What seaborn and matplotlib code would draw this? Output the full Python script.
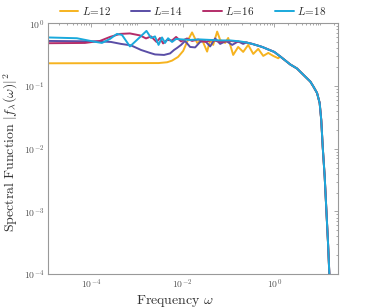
import numpy as np
import pandas as pd
import seaborn as sns
import matplotlib
matplotlib.use("Agg")
import matplotlib.pyplot as plt
from matplotlib.ticker import LogLocator, FuncFormatter, NullFormatter

# values
# low frequency part, different for every system size L
w_L12 = [1.15e-5, 3.0e-3, 4.6e-3, 5.89e-3, 7.97e-3, 1.03e-2, 1.25e-2, 1.61e-2, 2.08e-2,
         2.67e-2, 3.43e-2, 3.99e-2, 4.65e-2, 5.68e-2, 6.60e-2, 8.49e-2, 9.88e-2, 0.127,
         0.163, 0.210, 0.270, 0.348, 0.447, 0.575, 0.740, 0.951, 1.22]
f_L12 = [0.231, 0.233, 0.240, 0.255, 0.292, 0.364, 0.506, 0.718, 0.488,
         0.545, 0.355, 0.545, 0.454, 0.740, 0.545, 0.488, 0.586, 0.314,
         0.421, 0.351, 0.454, 0.326, 0.392, 0.303, 0.338, 0.303, 0.278]

w_L14 = [1.15e-5, 1.57e-4, 2.74e-4, 4.53e-4, 7.5e-4, 1.24e-3, 1.95e-3, 2.50e-3, 3.94e-3,
         5.33e-3, 6.52e-3, 7.58e-3, 9.27e-3, 1.13e-2, 1.46e-2, 1.88e-2, 2.41e-2, 3.10e-2,
         3.99e-2, 5.13e-2, 6.60e-2, 8.93e-2, 0.121, 0.163, 0.210]
f_L14 = [0.525, 0.516, 0.506, 0.471, 0.446, 0.377, 0.338, 0.320, 0.314,
         0.332, 0.377, 0.406, 0.454, 0.525, 0.421, 0.414, 0.506, 0.525,
         0.429, 0.576, 0.471, 0.525, 0.454, 0.516, 0.471]

w_L16 = [1.15e-5, 7.4e-5, 1.57e-4, 2.60e-4, 4.30e-4, 7.1e-4, 1.18e-3, 1.59e-3, 2.05e-3,
         2.70e-3, 3.22e-3, 3.75e-3, 4.58e-3, 5.89e-3, 7.21e-3, 9.27e-3, 1.25e-2, 1.61e-2,
         2.18e-2, 3.10e-2, 4.41e-2, 6.60e-2, 0.109, 0.181]
f_L16 = [0.483, 0.488, 0.525, 0.608, 0.680, 0.692, 0.643, 0.576, 0.620,
         0.506, 0.586, 0.479, 0.545, 0.535, 0.608, 0.516, 0.576, 0.525,
         0.555, 0.506, 0.545, 0.506, 0.525, 0.506]

w_L18 = [1.15e-5, 4.94e-5, 1.16e-4, 1.74e-4, 2.60e-4, 3.70e-4, 4.76e-4, 7.1e-4, 1.01e-3,
         1.63e-3, 2.05e-3, 2.50e-3, 2.99e-3, 3.56e-3, 4.14e-3, 4.82e-3, 5.89e-3, 7.21e-3,
         9.75e-3, 1.46e-2, 2.41e-2, 3.99e-2, 6.60e-2, 0.109, 0.181]
f_L18 = [0.597, 0.580, 0.512, 0.488, 0.565, 0.680, 0.655, 0.429, 0.545,
         0.759, 0.586, 0.620, 0.454, 0.597, 0.488, 0.580, 0.506, 0.565,
         0.555, 0.545, 0.555, 0.545, 0.535, 0.535, 0.516]

# high frequency tail, all sizes collapse onto it
w_tail = [0.244, 0.331, 0.425, 0.547, 0.740, 1.0, 1.35, 2.24, 3.13, 4.37, 6.12, 7.23,
          8.58, 9.78, 10.6, 11.4, 12.6, 13.7, 14.9, 15.9, 16.8]
f_tail = [0.497, 0.471, 0.446, 0.421, 0.384, 0.351, 0.297, 0.221, 0.191, 0.150, 0.118,
          0.0968, 0.0776, 0.0537, 0.0287, 0.0108, 0.00357, 0.00105, 3.12e-4, 1.02e-4, 5.1e-5]

sizes = [12, 14, 16, 18]
colors = ["#F6B31F", "#5A4EA6", "#B42D69", "#1AA9DC"]
heads = [(w_L12, f_L12), (w_L14, f_L14), (w_L16, f_L16), (w_L18, f_L18)]

rows = []
for L, (w, f) in zip(sizes, heads):
    label = r"$L\!=\!%d$" % L
    for wi, fi in zip(w, f):
        rows.append((wi, fi, label))
    for wi, fi in zip(w_tail, f_tail):
        if wi > w[-1]:
            rows.append((wi, fi, label))
df = pd.DataFrame(rows, columns=["w", "f", "L"])
labels = [r"$L\!=\!%d$" % L for L in sizes]

sns.set_style("white")
plt.rcParams["font.family"] = ["DejaVu Sans"]
plt.rcParams["mathtext.fontset"] = "cm"

fig = plt.figure(figsize=(3.74, 3.08), dpi=100)
ax = fig.add_axes([0.128, 0.110, 0.776, 0.814])

sns.lineplot(data=df, x="w", y="f", hue="L", hue_order=labels, palette=colors,
             estimator=None, linewidth=1.4, ax=ax)

ax.set_xscale("log")
ax.set_yscale("log")
ax.set_xlim(1.15e-5, 24.7)
ax.set_ylim(1e-4, 1)

fmt = FuncFormatter(lambda v, p: r"$\mathsf{10^{%d}}$" % round(np.log10(v)))
ax.set_xticks([1e-4, 1e-2, 1e0])
ax.set_yticks([1e-4, 1e-3, 1e-2, 1e-1, 1e0])
ax.xaxis.set_major_formatter(fmt)
ax.yaxis.set_major_formatter(fmt)
ax.xaxis.set_minor_locator(LogLocator(base=10, subs=np.arange(1, 10), numticks=20))
ax.yaxis.set_minor_locator(LogLocator(base=10, subs=np.arange(1, 10), numticks=20))
ax.xaxis.set_minor_formatter(NullFormatter())
ax.yaxis.set_minor_formatter(NullFormatter())
ax.tick_params(which="both", direction="in", top=True, right=True, color="#999999",
               width=0.6, labelsize=7, labelcolor="#555555", pad=2.5)
ax.tick_params(which="major", length=3)
ax.tick_params(which="minor", length=1.5)
for s in ax.spines.values():
    s.set_color("#999999")
    s.set_linewidth(0.8)

ax.set_xlabel(r"$\mathrm{Frequency}\ \omega$", fontsize=10, color="#333333")
ax.xaxis.set_label_coords(0.438, -0.074)
ax.set_ylabel(r"$\mathrm{Spectral\ Function}\ |f_\lambda(\omega)|^2$", fontsize=10,
              color="#333333")
ax.yaxis.set_label_coords(-0.095, 0.485)

sns.move_legend(ax, "lower center", bbox_to_anchor=(0.5, 1.0), ncol=4, frameon=False,
                title=None, fontsize=8, handlelength=1.7, columnspacing=1.8,
                handletextpad=0.3, borderaxespad=0.2)

fig.savefig("out.png", dpi=100)
